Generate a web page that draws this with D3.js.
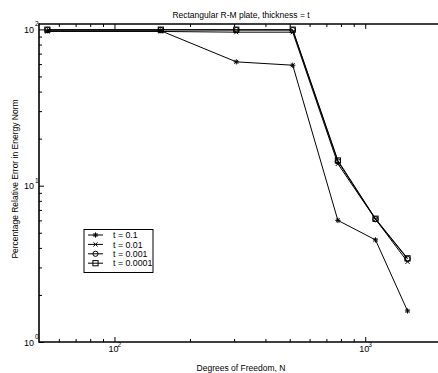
<!DOCTYPE html>
<html><head><meta charset="utf-8">
<script src="https://cdn.jsdelivr.net/npm/d3@7"></script>
<style>body{margin:0;background:#fff} svg{display:block} text{font-family:"Liberation Sans",Arial,sans-serif;fill:#000}</style>
</head><body><svg id="c" width="438" height="373"></svg>
<script>
const dof = [54, 153, 306, 514, 778, 1099, 1475];
const seriesNames = ["t = 0.1", "t = 0.01", "t = 0.001", "t = 0.0001"];
const errT01 = [98, 98, 62, 59, 6.0, 4.5, 1.58];
const errT001 = [97, 97, 96, 96, 13.8, 6.1, 3.26];
const errT0001 = [99.3, 99.3, 99, 99, 14.3, 6.1, 3.4];
const errT00001 = [99.6, 99.6, 99.6, 99.6, 14.5, 6.15, 3.43];
const markerTypes = ["asterisk", "x", "circle", "square"];
const xMajor = [100, 1000];
const xMajorExp = ["2", "3"];
const xMinor = [60, 70, 80, 90, 200, 300, 400, 500, 600, 700, 800, 900];
const yMajor = [1, 10, 100];
const yMajorExp = ["0", "1", "2"];
const yMinor = [2, 3, 4, 5, 6, 7, 8, 9, 20, 30, 40, 50, 60, 70, 80, 90];
const titleText = "Rectangular R-M plate, thickness = t";
const xLabel = "Degrees of Freedom, N";
const yLabel = "Percentage Relative Error in Energy Norm";

const allSeries = [errT01, errT001, errT0001, errT00001];

const svg = d3.select("#c");
const padL = 39, padB = 342, padT = 24;
const x = d3.scaleLog().domain([50, 2000]).range([padL, padL + 401.7]);
const y = d3.scaleLog().domain([1, 100]).range([padB, 29.4]);

function addAxis(gen, tr) {
  const g = svg.append("g").attr("transform", tr).call(gen);
  g.select(".domain").remove();
  g.selectAll("line").attr("stroke", "#000").attr("stroke-width", 1);
  return g;
}
addAxis(d3.axisBottom(x).tickValues(xMinor).tickSize(-3).tickFormat(""), `translate(0,${padB})`);
addAxis(d3.axisBottom(x).tickValues(xMajor).tickSize(-5).tickFormat(""), `translate(0,${padB})`);
addAxis(d3.axisTop(x).tickValues(xMinor).tickSize(-3).tickFormat(""), `translate(0,${padT})`);
addAxis(d3.axisTop(x).tickValues(xMajor).tickSize(-5).tickFormat(""), `translate(0,${padT})`);
addAxis(d3.axisLeft(y).tickValues(yMinor).tickSize(-3).tickFormat(""), `translate(${padL},0)`);
addAxis(d3.axisLeft(y).tickValues(yMajor).tickSize(-5).tickFormat(""), `translate(${padL},0)`);

svg.append("line").attr("x1", padL).attr("x2", 438).attr("y1", padB).attr("y2", padB).attr("stroke", "#000").attr("stroke-width", 1.6);
svg.append("line").attr("x1", padL).attr("x2", 438).attr("y1", padT).attr("y2", padT).attr("stroke", "#000").attr("stroke-width", 1.6);
svg.append("line").attr("x1", padL).attr("x2", padL).attr("y1", padT - 0.8).attr("y2", padB + 0.8).attr("stroke", "#000").attr("stroke-width", 1.6);

xMajor.forEach((v, i) => {
  svg.append("text").attr("x", x(v) - 6).attr("y", 352).attr("font-size", 9).text("10");
  svg.append("text").attr("x", x(v) + 3).attr("y", 347).attr("font-size", 6.5).text(xMajorExp[i]);
});
yMajor.forEach((v, i) => {
  svg.append("text").attr("x", 34).attr("y", y(v) + 3.5).attr("font-size", 9).attr("text-anchor", "end").text("10");
  svg.append("text").attr("x", 35).attr("y", y(v) - 3).attr("font-size", 6.5).text(yMajorExp[i]);
});

svg.append("text").attr("x", 241).attr("y", 17.5).attr("font-size", 8.5).attr("text-anchor", "middle").text(titleText);
svg.append("text").attr("x", 241).attr("y", 371).attr("font-size", 8.5).attr("text-anchor", "middle").text(xLabel);
svg.append("text").attr("transform", "translate(18,179) rotate(-90)").attr("font-size", 8.5).attr("text-anchor", "middle").text(yLabel);

function marker(g, type, cx, cy) {
  const s = 2.6;
  function ln(x1, y1, x2, y2) {
    g.append("line").attr("x1", x1).attr("y1", y1).attr("x2", x2).attr("y2", y2)
      .attr("stroke", "#000").attr("stroke-width", 1);
  }
  if (type === "asterisk") {
    ln(cx - s, cy, cx + s, cy); ln(cx, cy - s, cx, cy + s);
    ln(cx - s * 0.75, cy - s * 0.75, cx + s * 0.75, cy + s * 0.75);
    ln(cx - s * 0.75, cy + s * 0.75, cx + s * 0.75, cy - s * 0.75);
  } else if (type === "x") {
    ln(cx - s * 0.8, cy - s * 0.8, cx + s * 0.8, cy + s * 0.8);
    ln(cx - s * 0.8, cy + s * 0.8, cx + s * 0.8, cy - s * 0.8);
  } else if (type === "circle") {
    g.append("circle").attr("cx", cx).attr("cy", cy).attr("r", s).attr("stroke", "#000").attr("stroke-width", 1).attr("fill", "none");
  } else {
    g.append("rect").attr("x", cx - s).attr("y", cy - s).attr("width", 2 * s).attr("height", 2 * s).attr("stroke", "#000").attr("stroke-width", 1).attr("fill", "none");
  }
}

const line = d3.line().x((d, i) => x(dof[i])).y(d => y(d));
allSeries.forEach((vals, si) => {
  const g = svg.append("g");
  g.append("path").attr("d", line(vals)).attr("fill", "none").attr("stroke", "#000").attr("stroke-width", 1);
  vals.forEach((v, i) => marker(g, markerTypes[si], x(dof[i]), y(v)));
});

const lg = svg.append("g");
lg.append("rect").attr("x", 84).attr("y", 229.5).attr("width", 69).attr("height", 43).attr("fill", "#fff").attr("stroke", "#000").attr("stroke-width", 1);
seriesNames.forEach((n, i) => {
  const cy = 235 + i * 9.4;
  lg.append("line").attr("x1", 88).attr("x2", 103).attr("y1", cy).attr("y2", cy).attr("stroke", "#000").attr("stroke-width", 1);
  marker(lg, markerTypes[i], 95.5, cy);
  lg.append("text").attr("x", 113).attr("y", cy + 3.2).attr("font-size", 8.8).text(n);
});
</script></body></html>
